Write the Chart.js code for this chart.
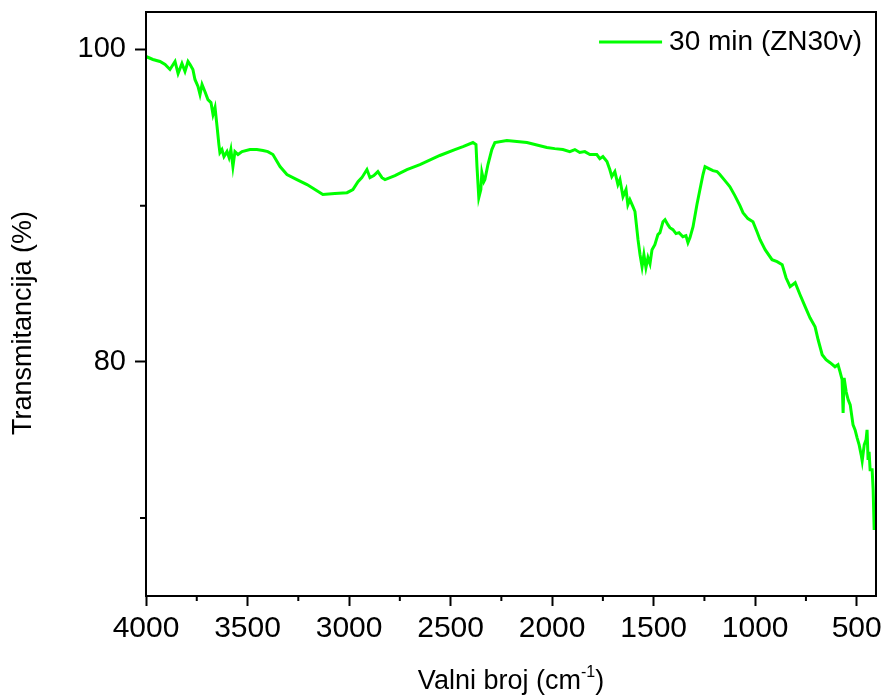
<!DOCTYPE html>
<html>
<head>
<meta charset="utf-8">
<script src="https://cdn.jsdelivr.net/npm/chart.js@4.4.0/dist/chart.umd.min.js"></script>
<style>
  body { margin: 0; background: #fff; }
  #wrap { width: 887px; height: 700px; }
</style>
</head>
<body>
<div id="wrap"><canvas id="mycanvas" width="887" height="700"></canvas></div>
<script>
// FTIR spectrum (cm-1, %)
var wavenumber = [4000, 3966, 3931, 3906, 3882, 3857, 3842, 3823, 3808, 3793, 3783, 3769, 3759, 3744,
  3734, 3724, 3710, 3695, 3680, 3670, 3660, 3650, 3641, 3636, 3626, 3616, 3601, 3591, 3582, 3572,
  3562, 3547, 3527, 3488, 3454, 3424, 3400, 3375, 3340, 3306, 3257, 3207, 3168, 3129, 3070, 3010,
  2981, 2956, 2937, 2912, 2897, 2878, 2858, 2838, 2823, 2774, 2715, 2651, 2553, 2479, 2439, 2390,
  2375, 2370, 2361, 2351, 2346, 2336, 2331, 2316, 2297, 2282, 2223, 2124, 2026, 1987, 1947, 1913,
  1888, 1864, 1839, 1814, 1780, 1765, 1750, 1730, 1716, 1706, 1691, 1676, 1666, 1651, 1636, 1627,
  1617, 1602, 1592, 1577, 1567, 1557, 1548, 1538, 1528, 1518, 1508, 1494, 1479, 1469, 1454, 1444,
  1430, 1420, 1405, 1390, 1375, 1356, 1341, 1331, 1321, 1306, 1287, 1272, 1257, 1247, 1228, 1208,
  1188, 1174, 1149, 1125, 1100, 1075, 1060, 1036, 1011, 991, 976, 951, 917, 892, 867, 848, 828,
  803, 779, 754, 730, 705, 690, 670, 651, 631, 607, 592, 582, 572, 567, 562, 552, 542, 532, 518,
  508, 498, 488, 478, 473, 463, 454, 449, 444, 439, 434, 424, 419, 414];
var transmittance = [99.55, 99.36, 99.23, 99.04, 98.72, 99.23, 98.46, 99.10, 98.59, 99.23, 99.04, 98.72, 98.08, 97.63,
  97.12, 97.76, 97.31, 96.79, 96.60, 95.83, 96.28, 95.06, 93.91, 93.40, 93.59, 93.14, 93.46, 93.08, 93.59, 92.50,
  93.46, 93.27, 93.46, 93.59, 93.59, 93.53, 93.46, 93.27, 92.50, 91.99, 91.67, 91.35, 91.03, 90.71, 90.77, 90.83,
  91.03, 91.54, 91.79, 92.31, 91.79, 91.92, 92.18, 91.79, 91.67, 91.92, 92.31, 92.63, 93.21, 93.59, 93.78, 94.04,
  93.91, 92.50, 90.51, 91.03, 92.12, 91.54, 91.67, 92.63, 93.59, 94.04, 94.17, 94.04, 93.72, 93.65, 93.59, 93.46,
  93.59, 93.40, 93.46, 93.27, 93.27, 93.01, 93.14, 92.82, 92.31, 91.86, 92.18, 91.35, 91.67, 90.58, 91.03, 90.06,
  90.38, 89.94, 89.62, 87.82, 86.86, 86.09, 86.86, 86.03, 86.67, 86.28, 87.18, 87.50, 88.14, 88.27, 88.97, 89.10,
  88.78, 88.59, 88.46, 88.21, 88.27, 88.01, 88.08, 87.63, 87.95, 88.65, 90.06, 91.03, 91.99, 92.50, 92.37, 92.24,
  92.18, 91.99, 91.60, 91.22, 90.64, 90.00, 89.55, 89.17, 88.97, 88.33, 87.82, 87.18, 86.54, 86.41, 86.22, 85.38, 84.81,
  85.06, 84.29, 83.53, 82.82, 82.24, 81.41, 80.45, 80.13, 79.94, 79.68, 79.81, 79.36, 78.85, 76.73, 78.97, 78.08, 77.56, 77.24, 75.96,
  75.64, 75.13, 74.68, 74.04, 73.65, 74.68, 75.00, 75.64, 73.72, 74.23, 73.08, 73.08, 71.79, 69.23];

var seriesLabel = '30 min (ZN30v)';
var xTicks = [4000, 3500, 3000, 2500, 2000, 1500, 1000, 500];
var xMinor = [3750, 3250, 2750, 2250, 1750, 1250, 750];
var yTicks = [80, 100];
var yMinor = [70, 90];

var FONT = "'Liberation Sans', Arial, sans-serif";

var points = [];
for (var i in wavenumber) {
  points.push({x: wavenumber[i], y: transmittance[i]});
}

// frame, minor ticks, axis titles and legend
var extras = {
  id: 'extras',
  afterDraw: function(chart) {
    var ctx = chart.ctx;
    var a = chart.chartArea;
    var xs = chart.scales.x, ys = chart.scales.y;
    ctx.save();
    ctx.strokeStyle = '#000';
    ctx.lineWidth = 2;
    ctx.strokeRect(a.left, a.top, a.right - a.left, a.bottom - a.top);

    ctx.beginPath();
    xMinor.forEach(function(v) {
      var px = xs.getPixelForValue(v);
      ctx.moveTo(px, a.bottom);
      ctx.lineTo(px, a.bottom + 5);
    });
    yMinor.forEach(function(v) {
      var py = ys.getPixelForValue(v);
      ctx.moveTo(a.left, py);
      ctx.lineTo(a.left - 6, py);
    });
    ctx.stroke();

    // x title with superscript
    ctx.fillStyle = '#000';
    ctx.textBaseline = 'alphabetic';
    ctx.textAlign = 'left';
    var main = 'Valni broj (cm', sup = '-1', tail = ')';
    ctx.font = '27px ' + FONT;
    var w1 = ctx.measureText(main).width, w3 = ctx.measureText(tail).width;
    ctx.font = '16px ' + FONT;
    var w2 = ctx.measureText(sup).width;
    var cx = (a.left + a.right) / 2;
    var x0 = cx - (w1 + w2 + w3) / 2;
    var base = 689;
    ctx.font = '27px ' + FONT;
    ctx.fillText(main, x0, base);
    ctx.font = '16px ' + FONT;
    ctx.fillText(sup, x0 + w1, base - 12);
    ctx.font = '27px ' + FONT;
    ctx.fillText(tail, x0 + w1 + w2, base);

    // y title
    ctx.save();
    ctx.translate(24, 323);
    ctx.rotate(-Math.PI / 2);
    ctx.textAlign = 'center';
    ctx.textBaseline = 'middle';
    ctx.font = '27px ' + FONT;
    ctx.fillText('Transmitancija (%)', 0, 0);
    ctx.restore();

    // legend
    var ds = chart.data.datasets[0];
    ctx.font = '28px ' + FONT;
    var tw = ctx.measureText(ds.label).width;
    var tx = a.right - 14 - tw;
    var ly = a.top + 30;
    ctx.strokeStyle = ds.borderColor;
    ctx.lineWidth = 3;
    ctx.beginPath();
    ctx.moveTo(tx - 70, ly);
    ctx.lineTo(tx - 7, ly);
    ctx.stroke();
    ctx.textAlign = 'left';
    ctx.textBaseline = 'middle';
    ctx.fillText(ds.label, tx, ly);
    ctx.restore();
  }
};

var ctx = document.getElementById('mycanvas');

var spectrum = new Chart(ctx, {
  type: 'line',
  data: {
    datasets: [{
      label: seriesLabel,
      data: points,
      borderColor: '#00ff00',
      borderWidth: 3,
      pointRadius: 0,
      tension: 0,
      fill: false
    }]
  },
  options: {
    responsive: false,
    animation: false,
    devicePixelRatio: 1,
    layout: { padding: { left: 0, right: 11, top: 12, bottom: 0 } },
    plugins: {
      legend: { display: false },
      tooltip: { enabled: false }
    },
    scales: {
      x: {
        type: 'linear',
        reverse: true,
        min: 405,
        max: 4000,
        afterBuildTicks: function(s) { s.ticks = xTicks.map(function(v) { return {value: v}; }); },
        afterFit: function(s) { s.height = 104; s.paddingLeft = 0; s.paddingRight = 0; },
        grid: { drawOnChartArea: false, tickLength: 10, tickColor: '#000', tickWidth: 2 },
        border: { display: true, color: '#000', width: 2 },
        ticks: {
          color: '#000', padding: 5, maxRotation: 0, autoSkip: false,
          font: { family: FONT, size: 30 },
          callback: function(v) { return String(v); }
        },
        title: { display: false }
      },
      y: {
        min: 65,
        max: 102.4,
        afterBuildTicks: function(s) { s.ticks = yTicks.map(function(v) { return {value: v}; }); },
        afterFit: function(s) { s.width = 146; s.paddingTop = 0; s.paddingBottom = 0; },
        grid: { drawOnChartArea: false, tickLength: 11, tickColor: '#000', tickWidth: 2 },
        border: { display: true, color: '#000', width: 2 },
        ticks: {
          color: '#000', padding: 9,
          font: { family: FONT, size: 29 },
          callback: function(v) { return String(v); }
        },
        title: { display: false }
      }
    }
  },
  plugins: [extras]
});
</script>
</body>
</html>
